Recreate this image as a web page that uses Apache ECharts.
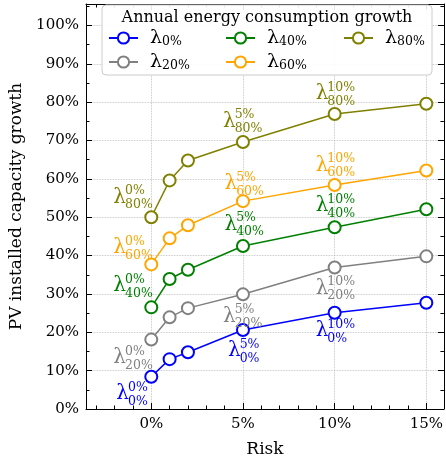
<!DOCTYPE html>
<html><head><meta charset="utf-8">
<script src="https://cdn.jsdelivr.net/npm/echarts@6/dist/echarts.min.js"></script>
<style>html,body{margin:0;padding:0;background:#fff}#c{width:446px;height:463px}</style>
</head><body><div id="c"></div>
<script>
// ---------- data ----------
const risk = [0, 1, 2, 5, 10, 15];
const seriesNames = ['λ0%', 'λ20%', 'λ40%', 'λ60%', 'λ80%'];
const growth0 = [8.4, 13.0, 14.8, 20.6, 25.1, 27.7];
const growth20 = [18.1, 23.9, 26.3, 29.9, 36.9, 39.8];
const growth40 = [26.5, 33.9, 36.3, 42.5, 47.4, 52.1];
const growth60 = [37.7, 44.5, 47.9, 54.2, 58.4, 62.2];
const growth80 = [50.0, 59.6, 64.8, 69.6, 76.9, 79.6];
const consumptionLabels = ['0%', '20%', '40%', '60%', '80%'];
const annotatedRisks = [0, 5, 10];
const legendTitle = 'Annual energy consumption growth';
const xName = 'Risk';
const yName = 'PV installed capacity growth';

// ---------- styles / layout ----------
const colors = ['#0000ff', '#808080', '#008000', '#ffa500', '#808000'];
const FONT = '"DejaVu Serif", serif';
// offset of the lambda (left, middle) from its point, per series and annotated risk
const labelOffsets = [
  [[-35, 16.5], [-15, 20.5], [-19, 17.8]],
  [[-38, 18], [-20, 21.5], [-19, 20.7]],
  [[-38, -22], [-18.5, -22], [-19, -21.5]],
  [[-38, -17], [-18.5, -17.7], [-19, -20]],
  [[-38, -20], [-20, -21], [-19, -20.7]]
];

const growthSets = [growth0, growth20, growth40, growth60, growth80];

const lineSeries = growthSets.map((vals, g) => ({
  name: seriesNames[g],
  type: 'line',
  data: risk.map((r, i) => [r, vals[i]]),
  symbol: 'emptyCircle',
  symbolSize: 12,
  color: colors[g],
  lineStyle: { width: 1.5, color: colors[g] },
  itemStyle: { borderWidth: 2, color: colors[g], borderColor: colors[g] },
  z: 3
}));

const annoData = [];
growthSets.forEach((vals, g) => {
  annotatedRisks.forEach((r, k) => {
    annoData.push([r, vals[risk.indexOf(r)], g, k]);
  });
});

const annoSeries = {
  type: 'custom',
  name: 'annotations',
  data: annoData,
  encode: { x: 0, y: 1 },
  z: 4,
  silent: true,
  renderItem: function (params, api) {
    const p = api.coord([api.value(0), api.value(1)]);
    const g = api.value(2), k = api.value(3);
    const off = labelOffsets[g][k];
    const bx = p[0] + off[0], by = p[1] + off[1];
    const col = colors[g];
    return {
      type: 'group',
      children: [
        { type: 'text', style: { x: bx, y: by + 0.5, text: 'λ', fill: col, font: '20px ' + FONT, align: 'left', verticalAlign: 'middle' } },
        { type: 'text', style: { x: bx + 11.7, y: by - 6, text: annotatedRisks[k] + '%', fill: col, font: '12.5px ' + FONT, align: 'left', verticalAlign: 'middle' } },
        { type: 'text', style: { x: bx + 11.7, y: by + 8, text: consumptionLabels[g], fill: col, font: '12.5px ' + FONT, align: 'left', verticalAlign: 'middle' } }
      ]
    };
  }
};

const axisText = { color: '#000', fontFamily: FONT, fontSize: 15 };
const nameText = { color: '#000', fontFamily: FONT, fontSize: 17 };

function xAxisDef(pos, showLabel) {
  return {
    type: 'value', position: pos, min: -3.56, max: 15.96, splitNumber: 4,
    axisLine: { show: true, onZero: false, lineStyle: { color: '#000', width: 1 } },
    axisTick: { show: true, inside: true, length: 6, lineStyle: { color: '#000', width: 1 } },
    minorTick: { show: true, splitNumber: 5, length: 3.5, lineStyle: { color: '#000', width: 1 } },
    axisLabel: { show: showLabel, formatter: '{value}%', margin: 8, showMinLabel: false, showMaxLabel: false, ...axisText },
    splitLine: { show: showLabel, lineStyle: { color: '#b8b8b8', type: 'dotted', width: 0.8 } },
    name: showLabel ? xName : '', nameLocation: 'middle', nameGap: 32,
    nameTextStyle: nameText
  };
}
function yAxisDef(pos, showLabel) {
  return {
    type: 'value', position: pos, min: 0, max: 105.6, interval: 10,
    axisLine: { show: true, onZero: false, lineStyle: { color: '#000', width: 1 } },
    axisTick: { show: true, inside: true, length: 6, lineStyle: { color: '#000', width: 1 } },
    minorTick: { show: true, splitNumber: 2, length: 3.5, lineStyle: { color: '#000', width: 1 } },
    axisLabel: { show: showLabel, formatter: '{value}%', margin: 7, showMaxLabel: false, ...axisText },
    splitLine: { show: showLabel, lineStyle: { color: '#b8b8b8', type: 'dotted', width: 0.8 } },
    name: showLabel ? yName : '', nameLocation: 'middle', nameGap: 59, nameRotate: 90,
    nameTextStyle: nameText
  };
}

const legendRich = {
  l: { fontFamily: FONT, fontSize: 19, color: '#000', lineHeight: 20, verticalAlign: 'bottom', padding: [0, 0, 0, 7] },
  s: { fontFamily: FONT, fontSize: 12.5, color: '#000', lineHeight: 12, verticalAlign: 'bottom' }
};
function legendDef(left, names) {
  return {
    orient: 'vertical', left: left, top: 29, padding: 0, itemGap: 5,
    itemWidth: 29, itemHeight: 14, data: names, selectedMode: false, z: 10,
    formatter: n => '{l|λ}{s|' + n.slice(1) + '}',
    textStyle: { rich: legendRich, fontFamily: FONT }
  };
}

const chart = echarts.init(document.getElementById('c'), null, { renderer: 'canvas' });
chart.setOption({
  animation: false,
  backgroundColor: '#fff',
  grid: { left: 86, right: 0, top: 4, bottom: 52, containLabel: false },
  xAxis: [xAxisDef('bottom', true), xAxisDef('top', false)],
  yAxis: [yAxisDef('left', true), yAxisDef('right', false)],
  legend: [
    legendDef(108, [seriesNames[0], seriesNames[1]]),
    legendDef(225, [seriesNames[2], seriesNames[3]]),
    legendDef(343, [seriesNames[4]])
  ],
  graphic: [
    { type: 'rect', z: 8, shape: { x: 102, y: 5, width: 330, height: 70, r: 4 },
      style: { fill: 'rgba(255,255,255,0.9)', stroke: '#cccccc', lineWidth: 1 } },
    { type: 'text', z: 9, x: 267, y: 18,
      style: { text: legendTitle, font: '16px ' + FONT, fill: '#000', align: 'center', verticalAlign: 'middle' } }
  ],
  series: [...lineSeries, annoSeries]
});
</script></body></html>
